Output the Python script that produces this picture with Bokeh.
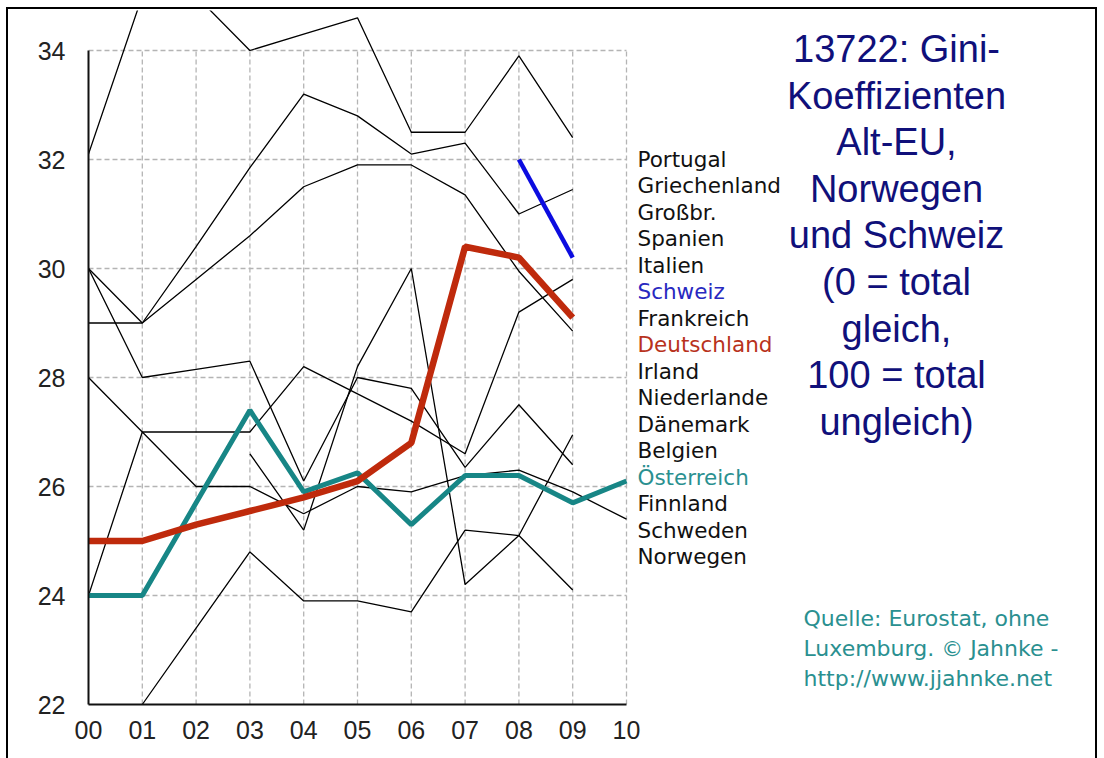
import math
from bokeh.plotting import figure
from bokeh.models import FixedTicker, Label
from bokeh.embed import file_html
from bokeh.resources import INLINE

nan = float("nan")

# ---- data -------------------------------------------------------------
years = [0, 1, 2, 3, 4, 5, 6, 7, 8, 9, 10]
year_labels = ["00", "01", "02", "03", "04", "05", "06", "07", "08", "09", "10"]
y_ticks = [22, 24, 26, 28, 30, 32, 34]

grossbritannien = [32.1, 35.0, 35.0, 34.0, 34.3, 34.6, 32.5, 32.5, 33.9, 32.4, nan]
italien = [29.0, 29.0, 30.4, 31.85, 33.2, 32.8, 32.1, 32.3, 31.0, 31.45, nan]
irland = [30.0, 29.0, 29.8, 30.6, 31.5, 31.9, 31.9, 31.35, 29.95, 28.85, nan]
belgien = [30.0, 28.0, 28.15, 28.3, 26.1, 28.0, 27.8, 26.35, 27.5, 26.4, nan]
frankreich = [28.0, 27.0, 27.0, 27.0, 28.2, 27.7, 27.2, 26.6, 29.2, 29.8, nan]
finnland = [24.0, 27.0, 26.0, 26.0, 25.5, 26.0, 25.9, 26.2, 26.3, 25.9, 25.4]
daenemark = [nan, 22.0, 23.4, 24.8, 23.9, 23.9, 23.7, 25.2, 25.1, 26.95, nan]
norwegen = [nan, nan, nan, 26.6, 25.2, 28.2, 30.0, 24.2, 25.1, 24.1, nan]
schweiz = [nan, nan, nan, nan, nan, nan, nan, nan, 32.0, 30.2, nan]
deutschland = [25.0, 25.0, 25.3, 25.55, 25.8, 26.1, 26.8, 30.4, 30.2, 29.1, nan]
oesterreich = [24.0, 24.0, 25.7, 27.4, 25.9, 26.25, 25.3, 26.2, 26.2, 25.7, 26.1]

legend_names = ["Portugal", "Griechenland", "Großbr.", "Spanien", "Italien",
                "Schweiz", "Frankreich", "Deutschland", "Irland", "Niederlande",
                "Dänemark", "Belgien", "Österreich", "Finnland", "Schweden",
                "Norwegen"]

title_lines = ["13722: Gini-", "Koeffizienten", "Alt-EU,", "Norwegen",
               "und Schweiz", "(0 = total", "gleich,", "100 = total",
               "ungleich)"]

source_lines = ["Quelle: Eurostat, ohne", "Luxemburg. © Jahnke -",
                "http://www.jjahnke.net"]

# ---- styling ----------------------------------------------------------
BLUE = "#0c0ce0"
RED = "#bf2a0c"
TEAL = "#178686"
NAVY = "#10107a"
TEXT_TEAL = "#2a9090"
legend_colors = {"Schweiz": "#2828c0", "Deutschland": "#b8321c",
                 "Österreich": TEXT_TEAL}

PX_X = 53.8   # pixels per year
PX_Y = 54.5   # pixels per Gini point
FRAME_W = 1002
FRAME_H = 694
X_END = FRAME_W / PX_X
Y_TOP = 22 + FRAME_H / PX_Y


def dx(px):
    # image pixel x -> data x (frame left edge is at image x = 88)
    return (px - 88) / PX_X


def dy(py):
    # image pixel y -> data y (frame bottom edge is at image y = 704)
    return 22 + (704 - py) / PX_Y


p = figure(frame_width=FRAME_W, frame_height=FRAME_H,
           x_range=(0, X_END), y_range=(22, Y_TOP),
           output_backend="svg", toolbar_location=None,
           min_border_left=80, min_border_right=5,
           min_border_top=1, min_border_bottom=54)
p.styles = {"border-top": "2px solid black", "border-left": "2px solid black",
            "border-right": "2px solid black",
            "margin-left": "6px", "margin-top": "7px"}
p.outline_line_color = None
p.xgrid.visible = False
p.ygrid.visible = False
p.background_fill_color = "white"
p.border_fill_color = "white"

for ax in (p.xaxis, p.yaxis):
    ax.major_tick_line_color = None
    ax.minor_tick_line_color = None
    ax.axis_line_width = 2
    ax.axis_line_color = "#111111"
    ax.major_label_text_font = "Liberation Sans"
    ax.major_label_text_font_size = "25px"
    ax.major_label_text_color = "#222222"

p.xaxis.ticker = FixedTicker(ticks=years)
p.xaxis.major_label_overrides = {y: lab for y, lab in zip(years, year_labels)}
p.xaxis.bounds = (years[0], years[-1])
p.xaxis.major_label_standoff = 10
p.yaxis.ticker = FixedTicker(ticks=y_ticks)
p.yaxis.bounds = (y_ticks[0], y_ticks[-1])
p.yaxis.major_label_standoff = 17

# dashed grid (only within the tick extent)
grid_kw = dict(line_color="#b4b4b4", line_width=1.3, line_dash="5 3")
p.segment(x0=years[1:], y0=[y_ticks[0]] * (len(years) - 1),
          x1=years[1:], y1=[y_ticks[-1]] * (len(years) - 1), **grid_kw)
p.segment(x0=[years[0]] * (len(y_ticks) - 1), y0=y_ticks[1:],
          x1=[years[-1]] * (len(y_ticks) - 1), y1=y_ticks[1:], **grid_kw)

for series in (grossbritannien, italien, irland, belgien, frankreich,
               finnland, daenemark, norwegen):
    p.line(years, series, line_color="black", line_width=1.3)

p.line(years, schweiz, line_color=BLUE, line_width=4.5)
p.line(years, oesterreich, line_color=TEAL, line_width=5)
p.line(years, deutschland, line_color=RED, line_width=6.5)

# country list
for i, name in enumerate(legend_names):
    p.add_layout(Label(x=dx(637), y=dy(159 + i * 26.47), text=name,
                       text_font="DejaVu Sans", text_font_size="21.5px",
                       text_baseline="alphabetic",
                       text_color=legend_colors.get(name, "#111111")))

# title
for i, line in enumerate(title_lines):
    p.add_layout(Label(x=dx(896), y=dy(48.5 + i * 46.6), text=line,
                       text_font="Liberation Sans", text_font_size="38px",
                       text_align="center", text_baseline="alphabetic",
                       text_color=NAVY))

# source
for i, line in enumerate(source_lines):
    p.add_layout(Label(x=dx(803), y=dy(618 + i * 30), text=line,
                       text_font="DejaVu Sans", text_font_size="22px",
                       text_baseline="alphabetic", text_color=TEXT_TEAL))

open("out.html", "w").write(file_html(p, INLINE))
